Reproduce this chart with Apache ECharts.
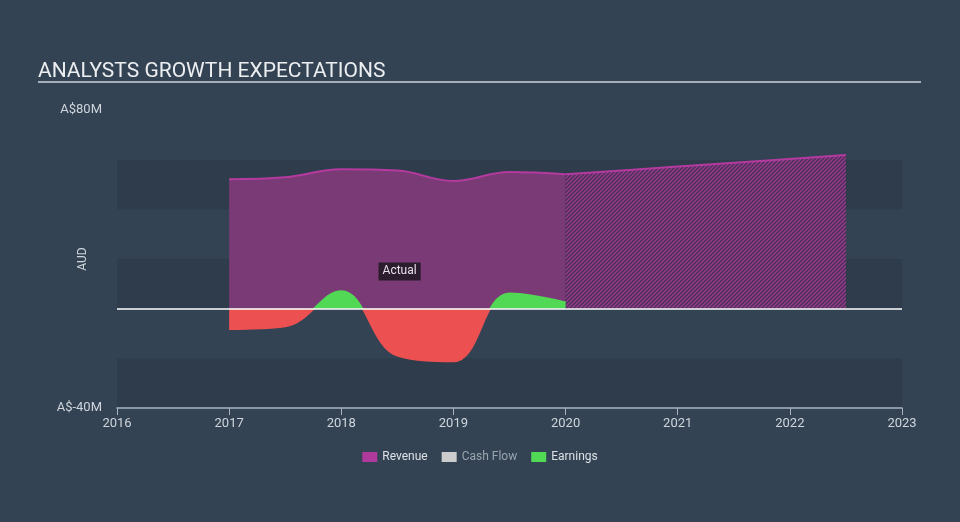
<!DOCTYPE html>
<html>
<head>
<meta charset="utf-8">
<script src="https://cdn.jsdelivr.net/npm/echarts@6/dist/echarts.min.js"></script>
<style>
html,body{margin:0;padding:0;background:#334354;}
#chart{width:960px;height:522px;}
</style>
</head>
<body>
<div id="chart"></div>
<script>
// ---- data ----
var revenueYears = [2017.0, 2017.5, 2018.0, 2018.5, 2019.0, 2019.5, 2020.0];
var revenueValues = [52.1, 52.9, 56.1, 55.6, 51.4, 55.0, 54.1];
var forecastYears = [2020.0, 2021.0, 2022.0, 2022.5];
var forecastValues = [54.1, 57.2, 60.3, 61.9];
var earningsYears = [2017.0, 2017.5, 2018.0, 2018.5, 2019.0, 2019.5, 2020.0];
var earningsValues = [-8.3, -7.2, 7.1, -19.0, -21.3, 6.2, 2.6];
var xTicks = [2016, 2017, 2018, 2019, 2020, 2021, 2022, 2023];
var yMin = -40, yMax = 80;
var legendNames = ['Revenue', 'Cash Flow', 'Earnings'];
var actualLabel = { text: 'Actual', x: 2018.52, y: 15 };

function pairs(xs, ys) { return xs.map(function (x, i) { return [x, ys[i]]; }); }

// hatch pattern for forecast
var pc = document.createElement('canvas');
pc.width = 4; pc.height = 4;
var ctx = pc.getContext('2d');
ctx.fillStyle = '#4b3157';
ctx.fillRect(0, 0, 4, 4);
ctx.strokeStyle = '#9a3a8f';
ctx.lineWidth = 1.3;
ctx.beginPath();
ctx.moveTo(0, 4); ctx.lineTo(4, 0);
ctx.moveTo(-1, 1); ctx.lineTo(1, -1);
ctx.moveTo(3, 5); ctx.lineTo(5, 3);
ctx.stroke();

var chart = echarts.init(document.getElementById('chart'), null, { renderer: 'canvas' });
var option = {
  backgroundColor: '#334354',
  animation: false,
  title: {
    text: 'ANALYSTS GROWTH EXPECTATIONS',
    left: 33, top: 56,
    textStyle: { color: '#eceef0', fontSize: 21, fontWeight: 'normal', fontFamily: 'Roboto' }
  },
  graphic: [{
    type: 'rect', shape: { x: 38, y: 81, width: 883, height: 2 },
    style: { fill: '#a7afb8' }, silent: true
  }],
  grid: { left: 117, right: 58, top: 110, bottom: 114 },
  legend: {
    bottom: 54, left: 'center',
    itemWidth: 15, itemHeight: 10, itemGap: 14,
    icon: 'rect',
    textStyle: { color: '#dde1e5', fontSize: 12, fontFamily: 'Roboto' },
    data: [
      { name: legendNames[0] },
      { name: legendNames[1], textStyle: { color: '#9aa4ae' } },
      { name: legendNames[2] }
    ]
  },
  xAxis: {
    type: 'value', min: xTicks[0], max: xTicks[xTicks.length - 1], interval: 1,
    axisLine: { onZero: false, lineStyle: { color: '#a9b4c0', width: 1.5 } },
    axisTick: { length: 7, lineStyle: { color: '#a9b4c0' } },
    axisLabel: { color: '#cfd5db', fontSize: 13, fontFamily: 'Roboto', margin: 9,
      formatter: function (v) { return String(v); } },
    splitLine: { show: false }
  },
  yAxis: {
    type: 'value', min: yMin, max: yMax, interval: 20,
    name: 'AUD', nameLocation: 'middle', nameGap: 28, nameMoveOverlap: false,
    nameTextStyle: { color: '#cfd5db', fontSize: 12, fontFamily: 'Roboto' },
    axisLine: { show: false }, axisTick: { show: false },
    axisLabel: { color: '#cfd5db', fontSize: 13, fontFamily: 'Roboto', margin: 15,
      formatter: function (v) { return v === yMax ? 'A$' + yMax + 'M' : (v === yMin ? 'A$' + yMin + 'M' : ''); } },
    splitLine: { show: false },
    splitArea: { show: true, areaStyle: { color: ['#2e3c4b', '#334354'] } }
  },
  visualMap: {
    show: false, type: 'piecewise', seriesIndex: 3, dimension: 1,
    pieces: [{ gt: -1000, lte: 0, color: '#ec5050' }, { gt: 0, lte: 1000, color: '#51d855' }]
  },
  series: [
    {
      name: 'Revenue', type: 'line', smooth: 0.4, symbol: 'none',
      data: pairs(revenueYears, revenueValues),
      itemStyle: { color: '#b03a9c' },
      lineStyle: { color: '#b53aa0', width: 2 },
      areaStyle: { color: '#7a3a75', opacity: 1 },
      markLine: {
        silent: true, symbol: 'none', label: { show: false },
        lineStyle: { color: '#ffffff', width: 1.5, type: 'solid' },
        data: [{ yAxis: 0 }]
      },
      markPoint: {
        symbol: 'rect', symbolSize: 0,
        label: {
          show: true, formatter: actualLabel.text, color: '#e6e0e8', fontSize: 12,
          fontFamily: 'Roboto',
          backgroundColor: '#2b1c2e', padding: [3, 4, 3, 4]
        },
        data: [{ coord: [actualLabel.x, actualLabel.y] }]
      },
      z: 2
    },
    {
      name: 'Revenue Forecast', type: 'line', smooth: 0.3, symbol: 'none',
      data: pairs(forecastYears, forecastValues),
      lineStyle: { color: '#b53aa0', width: 2 },
      areaStyle: { color: { image: pc, repeat: 'repeat' }, opacity: 1 },
      z: 2
    },
    {
      name: 'Cash Flow', type: 'line', data: [], itemStyle: { color: '#cccccc' }
    },
    {
      name: 'Earnings', type: 'line', smooth: 0.4, symbol: 'none',
      data: pairs(earningsYears, earningsValues),
      itemStyle: { color: '#51d855' },
      lineStyle: { width: 1.5 },
      areaStyle: { opacity: 1 },
      z: 3
    }
  ]
};
chart.setOption(option);
</script>
</body>
</html>
